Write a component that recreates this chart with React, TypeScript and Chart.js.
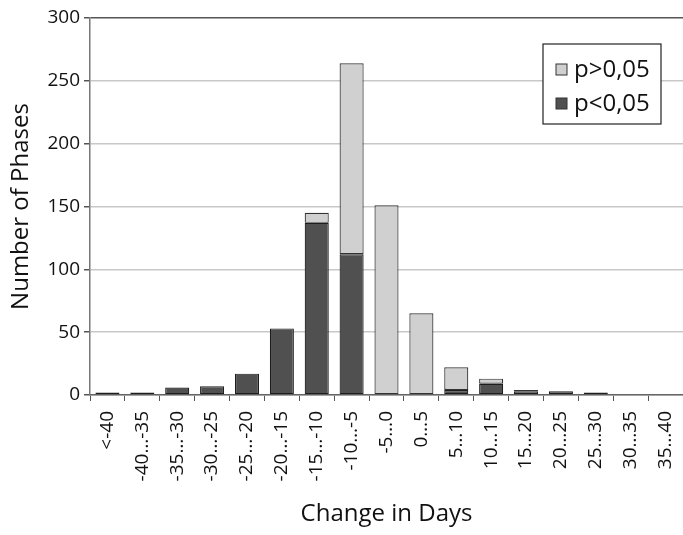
import React, { useEffect, useRef } from 'react';
import { Chart, registerables } from 'chart.js';

Chart.register(...registerables);

const categories = [
  '<-40', '-40…-35', '-35…-30', '-30…-25', '-25…-20', '-20…-15', '-15…-10', '-10…-5',
  '-5…0', '0…5', '5…10', '10…15', '15…20', '20…25', '25…30', '30…35', '35…40',
];
// null = no bar in that class
const significant = [2, 2, 6, 7, 17, 53, 137, 112, null, null, 4, 9, 3, 3, 2, null, null];
const notSignificant = [null, null, null, null, null, null, 8, 152, 151, 65, 18, 4, 1, null, null, null, null];
const yTicks = [0, 50, 100, 150, 200, 250, 300];

const FONT = '"Open Sans", "Noto Sans", sans-serif';

// legend box drawn inside the plot, top right
const boxLegend = {
  id: 'boxLegend',
  afterDraw(chart: Chart) {
    const { ctx, chartArea } = chart;
    const w = 118;
    const h = 80;
    const x = chartArea.right - 140;
    const y = chartArea.top + 26;
    ctx.save();
    ctx.fillStyle = '#fff';
    ctx.fillRect(x, y, w, h);
    ctx.strokeStyle = '#222';
    ctx.lineWidth = 1.2;
    ctx.strokeRect(x, y, w, h);
    ctx.font = `24px ${FONT}`;
    ctx.textBaseline = 'middle';
    const items = [...chart.data.datasets].reverse();
    items.forEach((ds, i) => {
      const cy = y + 25 + i * 34;
      ctx.fillStyle = ds.backgroundColor as string;
      ctx.fillRect(x + 13, cy - 5, 11, 11);
      ctx.strokeStyle = '#333';
      ctx.lineWidth = 1;
      ctx.strokeRect(x + 13, cy - 5, 11, 11);
      ctx.fillStyle = '#111';
      ctx.fillText(ds.label as string, x + 31, cy + 1);
    });
    ctx.restore();
  },
};

export default function App() {
  const canvasRef = useRef<HTMLCanvasElement>(null);
  const chartRef = useRef<Chart | null>(null);

  useEffect(() => {
    if (!canvasRef.current) return;
    if (chartRef.current) chartRef.current.destroy();

    chartRef.current = new Chart(canvasRef.current, {
      type: 'bar',
      data: {
        labels: categories,
        datasets: [
          {
            label: 'p<0,05',
            data: significant,
            backgroundColor: '#505050',
            borderColor: '#1e1e1e',
            borderWidth: 1.2,
            borderSkipped: false,
            barPercentage: 0.69,
            categoryPercentage: 1,
          },
          {
            label: 'p>0,05',
            data: notSignificant,
            backgroundColor: '#d0d0d0',
            borderColor: '#333',
            borderWidth: 1.2,
            borderSkipped: false,
            barPercentage: 0.69,
            categoryPercentage: 1,
          },
        ],
      },
      options: {
        responsive: true,
        maintainAspectRatio: false,
        animation: false,
        layout: { padding: { top: 18, right: 0, left: 0, bottom: 0 } },
        plugins: {
          legend: { display: false },
          tooltip: { enabled: false },
        },
        scales: {
          x: {
            stacked: true,
            afterFit: (scale) => {
              scale.height = 140;
              scale.paddingRight = 0;
            },
            grid: {
              offset: true,
              drawOnChartArea: false,
              tickColor: '#555',
              tickLength: 6,
            },
            border: { color: '#666', width: 1.5 },
            ticks: {
              autoSkip: false,
              minRotation: 90,
              maxRotation: 90,
              color: '#111',
              padding: 10,
              font: { family: FONT, size: 19 },
            },
            title: {
              display: true,
              text: 'Change in Days',
              color: '#111',
              padding: { top: 0, bottom: 6 },
              font: { family: FONT, size: 24 },
            },
          },
          y: {
            stacked: true,
            min: 0,
            max: 300,
            afterFit: (scale) => {
              scale.width = 90;
            },
            afterBuildTicks: (scale) => {
              scale.ticks = yTicks.map((v) => ({ value: v }));
            },
            grid: {
              color: (c) => (c.tick && c.tick.value === 300 ? '#555' : '#c8c8c8'),
              lineWidth: 1.5,
              tickColor: '#555',
              tickLength: 6,
            },
            border: { color: '#777', width: 1.5 },
            ticks: {
              color: '#111',
              padding: 4,
              font: { family: FONT, size: 19 },
            },
            title: {
              display: true,
              text: 'Number of Phases',
              color: '#111',
              padding: { top: 7, bottom: 0 },
              font: { family: FONT, size: 24 },
            },
          },
        },
      },
      plugins: [boxLegend],
    });

    return () => {
      if (chartRef.current) {
        chartRef.current.destroy();
        chartRef.current = null;
      }
    };
  }, []);

  return (
    <div style={{ position: 'fixed', left: 0, top: 0, width: 683, height: 535, background: '#fff' }}>
      <canvas ref={canvasRef} />
    </div>
  );
}
